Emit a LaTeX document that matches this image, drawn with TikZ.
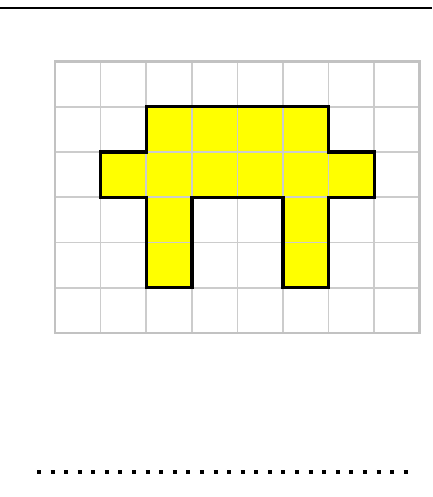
\documentclass[tikz,border=0pt]{standalone}
\begin{document}
\begin{tikzpicture}[x=1pt,y=1pt,
  gridline/.style={draw=black!20,line width=1.6pt},
  gridframe/.style={draw=black!24,line width=2.8pt},
  shapefill/.style={fill={rgb,255:red,255;green,255;blue,0}},
  shapeedge/.style={draw=black,line width=3.4pt,line join=miter},
  ruleline/.style={draw=black,line width=1.8pt},
  dotline/.style={draw=black,line width=4pt,dash pattern=on 4pt off 9.58pt}]
\useasboundingbox (0,0) rectangle (432,497);
% top rule
\draw[ruleline] (0,489) -- (432,489);
% grid
\begin{scope}[shift={(55,435.5)},x=45.6pt,y=-45.25pt]
  \path[shapefill] (2,1)--(6,1)--(6,2)--(7,2)--(7,3)--(6,3)--(6,5)--(5,5)--(5,3)--(3,3)--(3,5)--(2,5)--(2,3)--(1,3)--(1,2)--(2,2)--cycle;
  \foreach \i in {1,...,7} {\draw[gridline] (\i,0)--(\i,6);}
  \foreach \j in {1,...,5} {\draw[gridline] (0,\j)--(8,\j);}
  \draw[gridframe] (0,0) rectangle (8,6);
  \draw[shapeedge] (2,1)--(6,1)--(6,2)--(7,2)--(7,3)--(6,3)--(6,5)--(5,5)--(5,3)--(3,3)--(3,5)--(2,5)--(2,3)--(1,3)--(1,2)--(2,2)--cycle;
\end{scope}
% dotted answer line
\draw[dotline] (37,25) -- (408,25);
\end{tikzpicture}
\end{document}
